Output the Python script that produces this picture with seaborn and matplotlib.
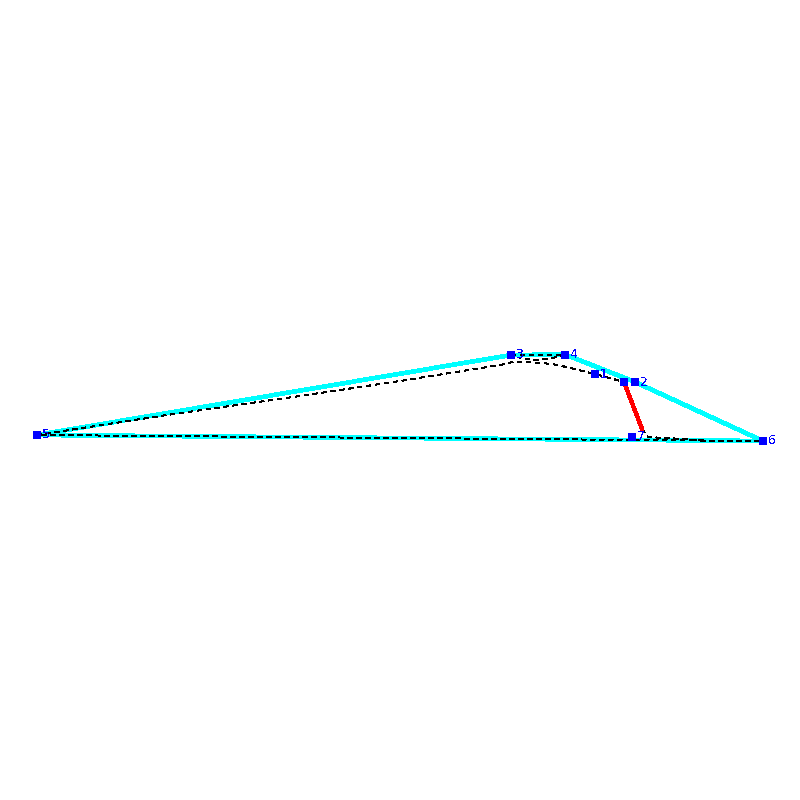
import matplotlib
matplotlib.use('Agg')
import pandas as pd
import matplotlib.pyplot as plt
import seaborn as sns

# outline, picture coordinates
outline_x = [37, 511, 565, 635, 763, 37]
outline_y = [435, 355, 354.5, 382, 441, 435]

# dashed trace
trace_x = [37, 167, 300, 400, 500, 513, 527, 543, 558, 570, 595, 624]
trace_y = [435, 415, 396, 381, 365, 362, 362, 363, 365, 368, 374, 382]

right_x = [642, 648, 683, 703, 763]
right_y = [429, 437, 439, 441, 441]

bottom_x = [703, 37]
bottom_y = [440.5, 435]

upper_x = [511, 565, 548, 535, 520]
upper_y = [355, 355, 359, 360, 358]

# red segment
red_x = [624, 642]
red_y = [382, 429]

node_ids = ['1', '2', '3', '4', '5', '6', '7']
node_x = [595, 635, 511, 565, 37, 763, 632]
node_y = [374, 382, 355, 354.5, 435, 441, 437]
extra_x = [624]
extra_y = [382]

sns.set_style('white')
fig, ax = plt.subplots(figsize=(8, 8), dpi=100)
ax.set_position([0, 0, 1, 1])

sns.lineplot(x=outline_x, y=outline_y, sort=False, estimator=None, color='#00ffff', linewidth=2.6, ax=ax, antialiased=False, zorder=1)
for dash_x, dash_y in [(trace_x, trace_y), (right_x, right_y), (bottom_x, bottom_y), (upper_x, upper_y)]:
    sns.lineplot(x=dash_x, y=dash_y, sort=False, estimator=None, color='black', linewidth=0.75, linestyle=(0, (4, 4)), ax=ax, antialiased=False, zorder=2)
sns.lineplot(x=red_x, y=red_y, sort=False, estimator=None, color='#ff0000', linewidth=2.4, ax=ax, antialiased=False, zorder=3)

nodes = pd.DataFrame({'x': node_x + extra_x, 'y': node_y + extra_y})
sns.scatterplot(data=nodes, x='x', y='y', marker='s', s=34, color='#0000ff', linewidth=0, ax=ax, zorder=4)

for name, x, y in zip(node_ids, node_x, node_y):
    ax.text(x + 5, y, name, color='#0000ff', fontsize=9, va='center', ha='left', zorder=5, antialiased=False)

ax.set_xlim(0, 800)
ax.set_ylim(800, 0)
ax.axis('off')

plt.savefig('out.png', dpi=100)
